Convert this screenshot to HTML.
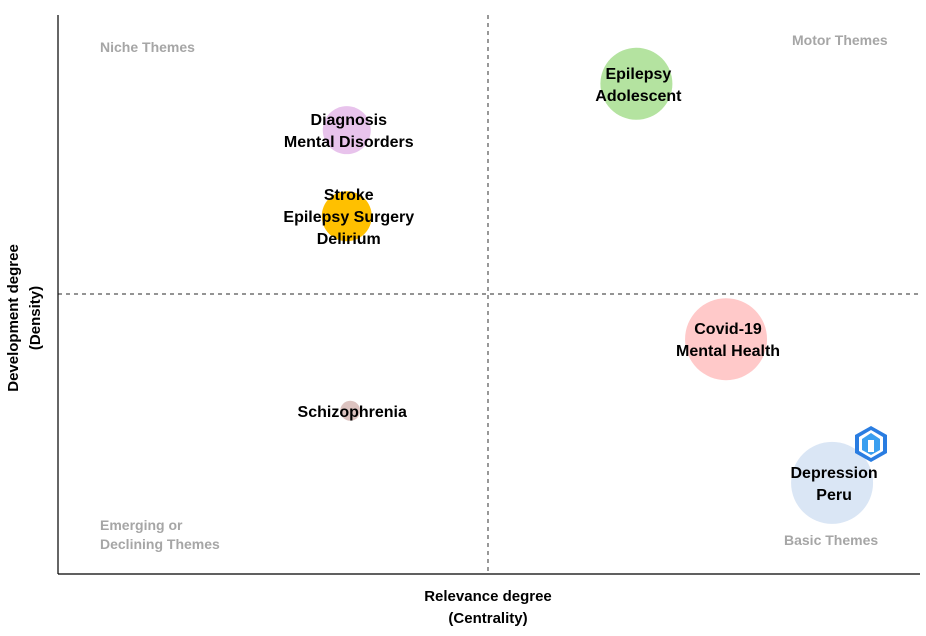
<!DOCTYPE html>
<html><head><meta charset="utf-8"><style>
body{margin:0;background:#fff;}
svg{display:block;font-family:"Liberation Sans",Arial,sans-serif;}
</style></head><body>
<svg id="chart" width="926" height="636" viewBox="0 0 926 636" xmlns="http://www.w3.org/2000/svg">
<g id="marks"></g>
<line x1="488" y1="15" x2="488" y2="574" stroke="#555" stroke-width="1.2" stroke-dasharray="4,4"/>
<line x1="58" y1="294" x2="920" y2="294" stroke="#555" stroke-width="1.2" stroke-dasharray="4,4"/>
<line x1="58" y1="15" x2="58" y2="574" stroke="#000" stroke-width="1.2"/>
<line x1="58" y1="574" x2="920" y2="574" stroke="#000" stroke-width="1.2"/>
<g font-size="14" fill="#a6a6a6" font-weight="bold">
<text x="100" y="52">Niche Themes</text>
<text x="792" y="45">Motor Themes</text>
<text x="100" y="530">Emerging or</text>
<text x="100" y="549">Declining Themes</text>
<text x="784" y="545">Basic Themes</text>
</g>
<g font-size="15" font-weight="bold" fill="#000" text-anchor="middle">
<text x="488" y="601">Relevance degree</text>
<text x="488" y="623">(Centrality)</text>
<text transform="translate(18,318) rotate(-90)">Development degree</text>
<text transform="translate(40,318) rotate(-90)">(Density)</text>
</g>
<g id="labels" font-size="16" font-weight="bold" fill="#000" text-anchor="middle"></g>
<g transform="translate(871,444)">
<polygon points="0,-18 16,-9 16,9 0,18 -16,9 -16,-9" fill="#2a7de1"/>
<polygon points="0,-14 12,-7 12,7 0,14 -12,7 -12,-7" fill="#fff"/>
<polygon points="0,-11 9,-5 9,6 0,11 -9,6 -9,-5" fill="#3a9ff0"/>
<rect x="-3" y="-4" width="6" height="12" fill="#fff"/>
</g>
</svg>
<script>
const topics = [["Epilepsy","Adolescent"],["Diagnosis","Mental Disorders"],["Stroke","Epilepsy Surgery","Delirium"],["Covid-19","Mental Health"],["Schizophrenia"],["Depression","Peru"]];
const centrality = [67.1, 33.5, 33.5, 77.5, 33.9, 89.8];
const density = [87.7, 79.4, 64.0, 42.0, 29.2, 16.3];
const sizes = [36, 24, 25, 41, 10, 41];
const colors = ["#b4e3a0","#e8c3ec","#ffc000","#ffc9c9","#dcc3c0","#dae6f5"];
const xS = v => 58 + v * 8.62;
const yS = v => 574 - v * 5.59;
const NS = "http://www.w3.org/2000/svg";
const marks = document.getElementById('marks');
const labels = document.getElementById('labels');
topics.forEach((t, i) => {
  const c = document.createElementNS(NS, 'circle');
  c.setAttribute('cx', xS(centrality[i]));
  c.setAttribute('cy', yS(density[i]));
  c.setAttribute('r', sizes[i]);
  c.setAttribute('fill', colors[i]);
  
  
  marks.appendChild(c);
  const n = t.length;
  t.forEach((line, j) => {
    const tx = document.createElementNS(NS, 'text');
    tx.setAttribute('x', xS(centrality[i]) + 2);
    tx.setAttribute('y', yS(density[i]) + 6 + (j - (n - 1) / 2) * 22);
    tx.textContent = line;
    
    
    labels.appendChild(tx);
  });
});
</script>
</body></html>
